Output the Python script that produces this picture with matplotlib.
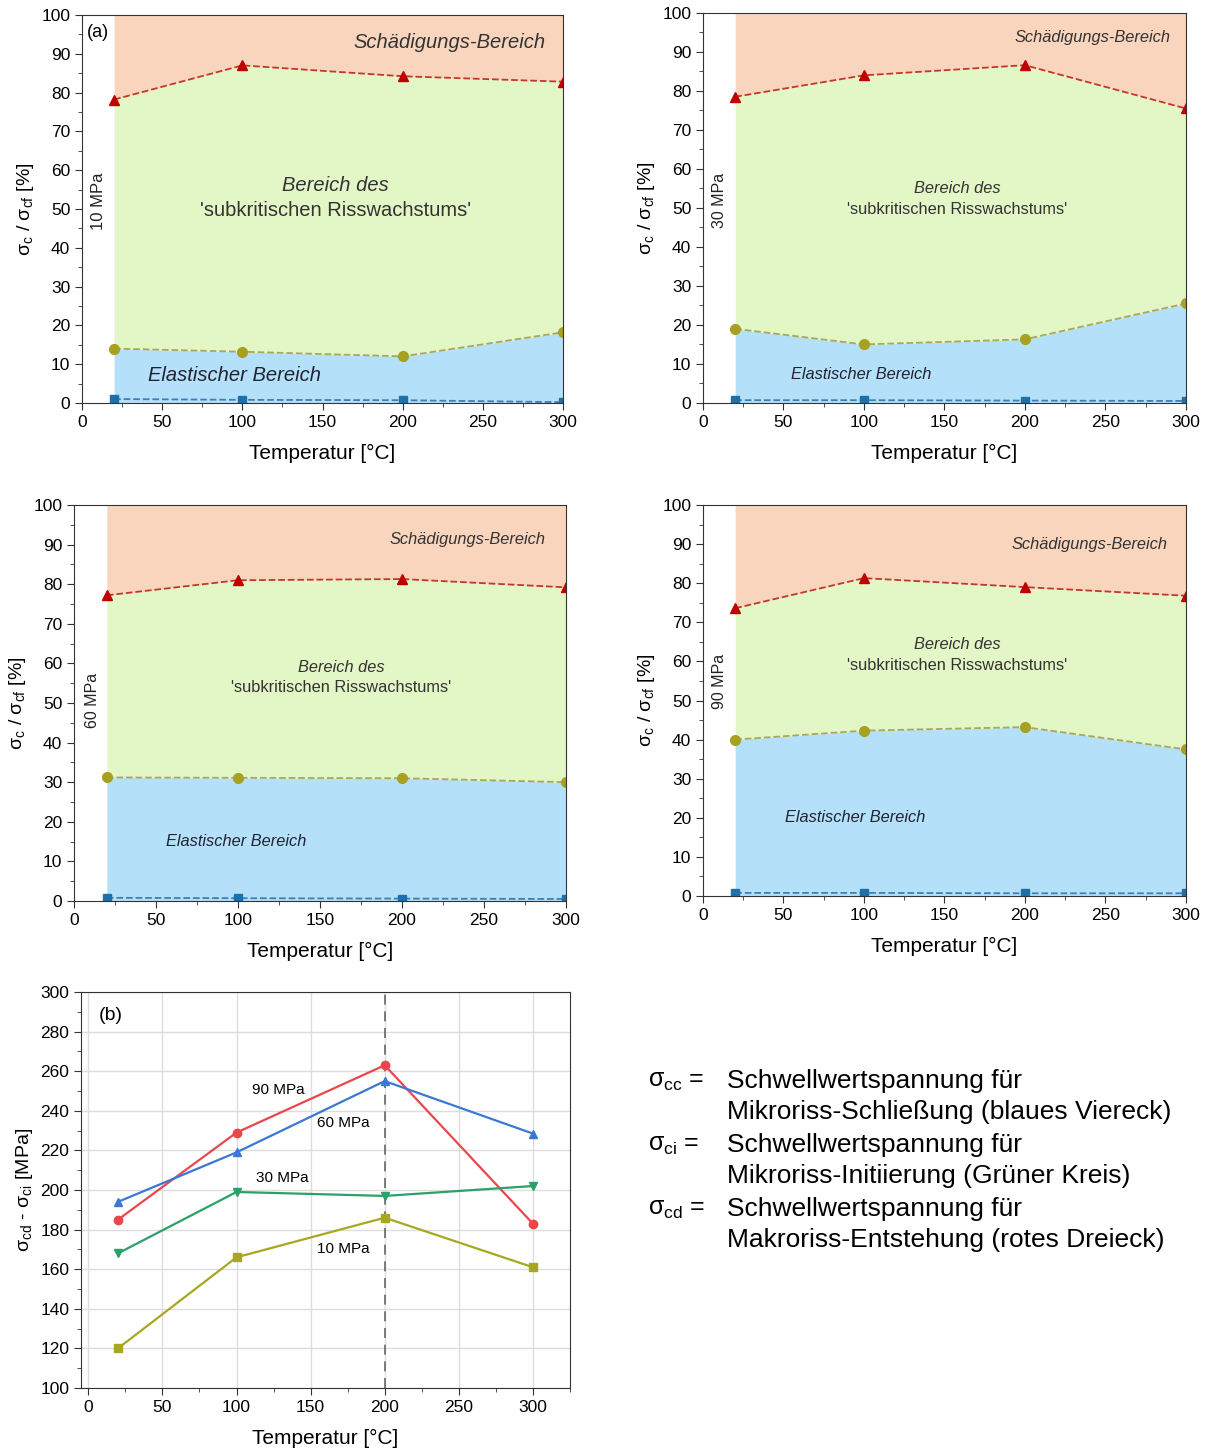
import numpy as np
import matplotlib.pyplot as plt
from matplotlib.ticker import MultipleLocator

plt.rcParams['font.family'] = ['Liberation Sans', 'DejaVu Sans']

temps = [20, 100, 200, 300]

# sigma / sigma_cf [%] per confining pressure
pressures = ['10 MPa', '30 MPa', '60 MPa', '90 MPa']
cc_pct = [[1.0, 0.8, 0.7, 0.2],
          [0.7, 0.7, 0.6, 0.5],
          [0.8, 0.7, 0.6, 0.5],
          [0.8, 0.8, 0.7, 0.7]]
ci_pct = [[14.0, 13.2, 12.0, 18.2],
          [19.0, 15.0, 16.3, 25.5],
          [31.2, 31.1, 31.0, 30.0],
          [40.0, 42.3, 43.2, 37.5]]
cd_pct = [[78.2, 87.0, 84.2, 82.8],
          [78.5, 84.0, 86.6, 75.5],
          [77.2, 81.0, 81.3, 79.2],
          [73.6, 81.3, 79.0, 76.8]]

# sigma_cd - sigma_ci [MPa]
diff_90 = [185, 229, 263, 183]
diff_60 = [194, 219, 255, 228.5]
diff_30 = [168, 199, 197, 202]
diff_10 = [120, 166, 186, 161]

fig = plt.figure(figsize=(12.1, 14.52), dpi=100)

# [left, bottom, width, height], font size, text positions
panels = [
    dict(rect=[0.0678, 0.7225, 0.3975, 0.2672], big=True,
         schaed=(229, 92.8), bereich=(158, 56, 49.5), elast=(95, 7), mpa=(10, 52)),
    dict(rect=[0.581, 0.7225, 0.399, 0.2686], big=False,
         schaed=(242, 93.8), bereich=(158, 55, 49.7), elast=(98, 7.2), mpa=(10.5, 52)),
    dict(rect=[0.0612, 0.3795, 0.4066, 0.2727], big=False,
         schaed=(240, 91.4), bereich=(163, 59, 53.8), elast=(99, 15), mpa=(11, 50.7)),
    dict(rect=[0.581, 0.3829, 0.399, 0.2693], big=False,
         schaed=(240, 89.8), bereich=(158, 64.2, 59), elast=(94.4, 20), mpa=(10.5, 55)),
]

c_orange = '#F9D5BD'
c_green = '#E3F6C6'
c_blue = '#B4E1F9'

for i, p in enumerate(panels):
    ax = fig.add_axes(p['rect'])
    cc, ci, cd = cc_pct[i], ci_pct[i], cd_pct[i]
    ax.fill_between(temps, 0, ci, color=c_blue, lw=0)
    ax.fill_between(temps, ci, cd, color=c_green, lw=0)
    ax.fill_between(temps, cd, 100, color=c_orange, lw=0)
    ax.plot(temps, cc, '--', color='#3F7FB5', lw=1.3, marker='s', ms=6,
            mfc='#1F6FA8', mec='#1F6FA8')
    ax.plot(temps, ci, '--', color='#A9A85A', lw=1.3, marker='o', ms=7,
            mfc='#A8A020', mec='#A8A020')
    ax.plot(temps, cd, '--', color='#C0392B', lw=1.3, marker='^', ms=7,
            mfc='#C00000', mec='#C00000')
    ax.set_xlim(0, 300)
    ax.set_ylim(0, 100)
    ax.xaxis.set_major_locator(MultipleLocator(50))
    ax.xaxis.set_minor_locator(MultipleLocator(25))
    ax.yaxis.set_major_locator(MultipleLocator(10))
    ax.yaxis.set_minor_locator(MultipleLocator(5))
    ax.tick_params(which='both', direction='out', labelsize=12.5, color='#333333')
    ax.tick_params(which='major', length=5)
    ax.tick_params(which='minor', length=3)
    for s in ax.spines.values():
        s.set_color('#333333')
    ax.set_xlabel('Temperatur [°C]', fontsize=15, labelpad=10)
    ax.set_ylabel(r'σ$_\mathregular{c}$ / σ$_\mathregular{cf}$ [%]', fontsize=14)

    fs_big = 14.5 if p['big'] else 11.8
    ax.text(*p['schaed'], 'Schädigungs-Bereich', style='italic', fontsize=fs_big,
            ha='center', va='center', color='#333333')
    bx, by1, by2 = p['bereich']
    ax.text(bx, by1, 'Bereich des', style='italic', fontsize=fs_big,
            ha='center', va='center', color='#333333')
    ax.text(bx, by2, "'subkritischen Risswachstums'", fontsize=fs_big,
            ha='center', va='center', color='#333333')
    ax.text(*p['elast'], 'Elastischer Bereich', style='italic', fontsize=fs_big,
            ha='center', va='center', color='#222233')
    ax.text(*p['mpa'], pressures[i], rotation=90, fontsize=12 if p['big'] else 11.5,
            ha='center', va='center', color='#222222')
    if i == 0:
        ax.text(10, 95.5, '(a)', fontsize=13, ha='center', va='center')

# panel (b)
axb = fig.add_axes([0.0669, 0.0441, 0.4041, 0.2727])
axb.grid(True, color='#DDDDDD', lw=1)
axb.set_axisbelow(True)
axb.axvline(200, color='#666666', ls=(0, (6, 4)), lw=1.2)
axb.plot(temps, diff_90, '-o', color='#E8474C', lw=1.6, ms=6)
axb.plot(temps, diff_60, '-^', color='#3A78D4', lw=1.6, ms=6)
axb.plot(temps, diff_30, '-v', color='#2CA06A', lw=1.6, ms=6)
axb.plot(temps, diff_10, '-s', color='#A8A820', lw=1.6, ms=6)
axb.set_xlim(-5, 325)
axb.set_ylim(100, 300)
axb.xaxis.set_major_locator(MultipleLocator(50))
axb.xaxis.set_minor_locator(MultipleLocator(25))
axb.yaxis.set_major_locator(MultipleLocator(20))
axb.yaxis.set_minor_locator(MultipleLocator(10))
axb.tick_params(which='both', direction='out', labelsize=12.5, color='#333333')
axb.tick_params(which='major', length=5)
axb.tick_params(which='minor', length=3)
for s in axb.spines.values():
    s.set_color('#333333')
axb.set_xlabel('Temperatur [°C]', fontsize=15, labelpad=10)
axb.set_ylabel(r'σ$_\mathregular{cd}$ - σ$_\mathregular{ci}$ [MPa]', fontsize=14)
axb.text(15, 288, '(b)', fontsize=14, ha='center', va='center')
axb.text(128, 250.7, '90 MPa', fontsize=11, ha='center', va='center')
axb.text(172, 233.8, '60 MPa', fontsize=11, ha='center', va='center')
axb.text(131, 206, '30 MPa', fontsize=11, ha='center', va='center')
axb.text(172, 170, '10 MPa', fontsize=11, ha='center', va='center')

# symbol explanations
legend_rows = [
    (r'σ$_\mathregular{cc}$ =', 'Schwellwertspannung für',
     'Mikroriss-Schließung (blaues Viereck)'),
    (r'σ$_\mathregular{ci}$ =', 'Schwellwertspannung für',
     'Mikroriss-Initiierung (Grüner Kreis)'),
    (r'σ$_\mathregular{cd}$ =', 'Schwellwertspannung für',
     'Makroriss-Entstehung (rotes Dreieck)'),
]
y0 = 1081
for k, (sym, l1, l2) in enumerate(legend_rows):
    ya = 1 - (y0 + k * 64) / 1452
    yb = 1 - (y0 + 31 + k * 64) / 1452
    fig.text(648 / 1210, ya, sym, fontsize=18, va='center', ha='left')
    fig.text(727 / 1210, ya, l1, fontsize=19, va='center', ha='left')
    fig.text(727 / 1210, yb, l2, fontsize=19, va='center', ha='left')

fig.savefig('out.png', dpi=100)
